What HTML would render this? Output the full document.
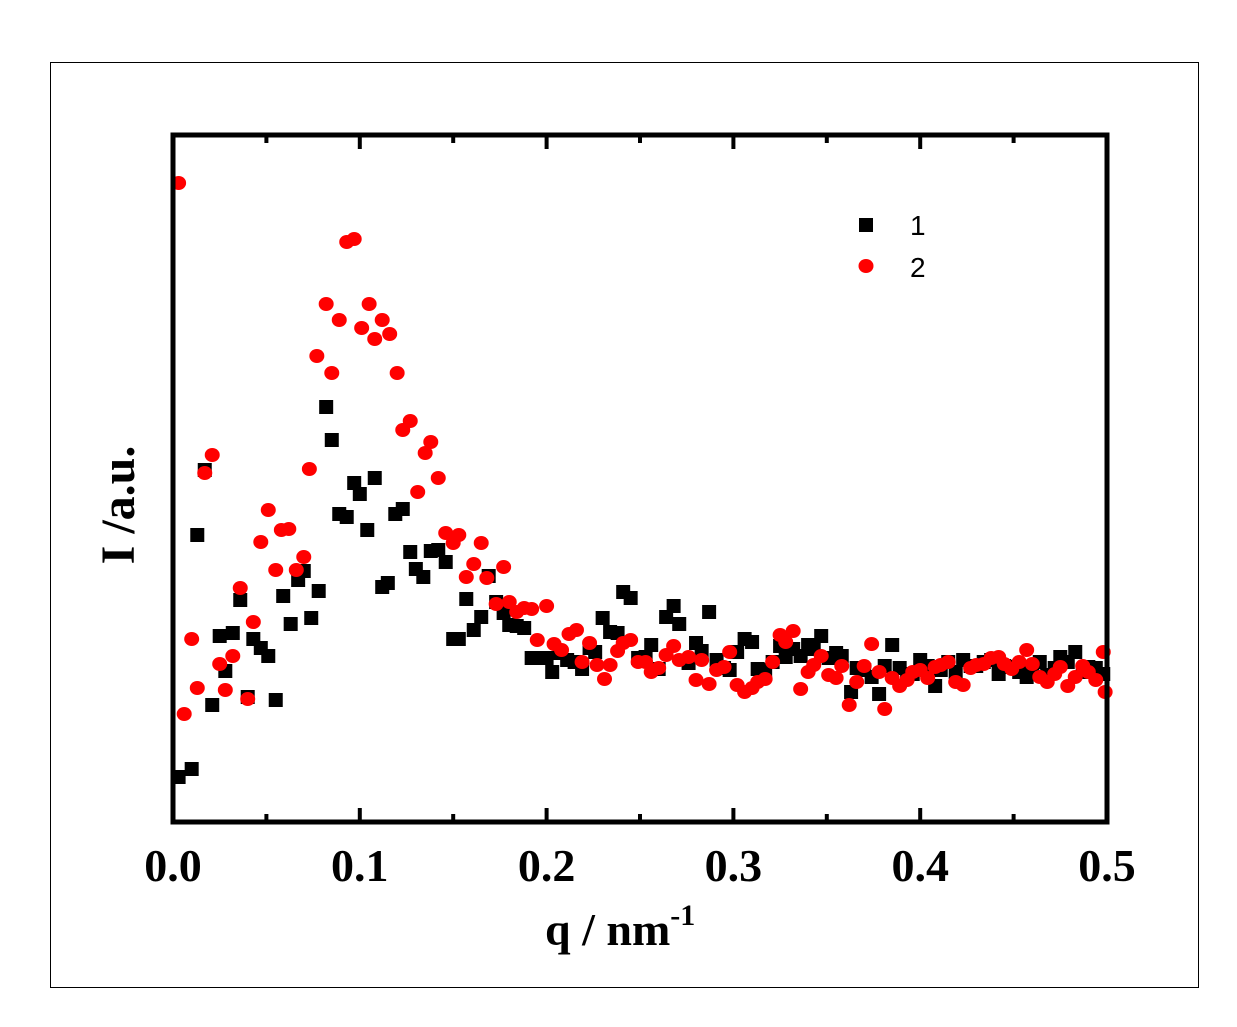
<!DOCTYPE html>
<html><head><meta charset="utf-8"><style>
html,body{margin:0;padding:0;background:#fff;}
svg{display:block;}
</style></head><body>
<svg id="chart" width="1237" height="1027" viewBox="0 0 1237 1027" xmlns="http://www.w3.org/2000/svg">
<rect x="50.5" y="62.5" width="1148" height="925" fill="#fff" stroke="#000" stroke-width="1"/>
<g id="marks"></g>
<rect x="173" y="135" width="934" height="687" fill="none" stroke="#000" stroke-width="5"/>
<g id="ticks"></g>
<text x="545" y="945" font-family="Liberation Serif, serif" font-weight="bold" font-size="46">q / nm<tspan font-size="30" dy="-20">-1</tspan></text>
<text transform="translate(134,505) rotate(-90)" text-anchor="middle" font-family="Liberation Serif, serif" font-weight="bold" font-size="48">I /a.u.</text>
<g>
<rect x="859" y="218" width="14" height="14" fill="#000"/>
<text x="910" y="235" font-family="Liberation Sans, sans-serif" font-size="28">1</text>
<ellipse cx="866" cy="266" rx="7.5" ry="7" fill="#f00"/>
<text x="910" y="277" font-family="Liberation Sans, sans-serif" font-size="28">2</text>
</g>
</svg>
<script>
const xTicks = [0.0, 0.1, 0.2, 0.3, 0.4, 0.5];
const xTickLabels = ["0.0", "0.1", "0.2", "0.3", "0.4", "0.5"];
const xMinorTicks = [0.05, 0.15, 0.25, 0.35, 0.45];
const q1 = [0.003,0.010,0.013,0.017,0.021,0.025,0.028,0.032,0.036,0.040,0.043,0.047,0.051,0.055,0.059,0.063,0.067,0.070,0.074,0.078,0.082,0.085,0.089,0.093,0.097,0.100,0.104,0.108,0.112,0.115,0.119,0.123,0.127,0.130,0.134,0.138,0.142,0.146,0.150,0.153,0.157,0.161,0.165,0.169,0.173,0.177,0.180,0.184,0.188,0.192,0.195,0.200,0.203,0.207,0.211,0.215,0.219,0.223,0.226,0.230,0.234,0.238,0.241,0.245,0.249,0.253,0.256,0.260,0.264,0.268,0.271,0.276,0.280,0.283,0.287,0.291,0.295,0.298,0.302,0.306,0.310,0.313,0.317,0.321,0.325,0.328,0.332,0.336,0.340,0.343,0.347,0.351,0.355,0.358,0.363,0.366,0.370,0.374,0.378,0.381,0.385,0.389,0.393,0.396,0.400,0.404,0.408,0.411,0.415,0.419,0.423,0.427,0.430,0.434,0.438,0.442,0.445,0.449,0.453,0.457,0.460,0.464,0.468,0.472,0.475,0.479,0.483,0.487,0.490,0.494,0.498];
const I1 = [0.45,0.53,2.87,3.52,1.17,1.86,1.51,1.89,2.22,1.25,1.83,1.74,1.66,1.22,2.26,1.98,2.42,2.51,2.04,2.31,4.15,3.82,3.08,3.05,3.39,3.28,2.92,3.44,2.35,2.39,3.08,3.13,2.70,2.53,2.45,2.71,2.72,2.60,1.83,1.83,2.23,1.92,2.05,2.46,2.20,2.09,1.97,1.96,1.94,1.64,1.64,1.64,1.50,1.69,1.62,1.60,1.53,1.74,1.70,2.04,1.90,1.89,2.30,2.24,1.64,1.65,1.77,1.53,2.05,2.16,1.98,1.59,1.79,1.71,2.10,1.62,1.54,1.52,1.70,1.83,1.80,1.53,1.52,1.60,1.76,1.65,1.73,1.66,1.77,1.73,1.86,1.64,1.69,1.66,1.30,1.54,1.52,1.45,1.28,1.56,1.77,1.54,1.48,1.48,1.62,1.56,1.36,1.52,1.60,1.50,1.62,1.56,1.56,1.60,1.62,1.48,1.56,1.55,1.50,1.45,1.50,1.60,1.47,1.54,1.65,1.60,1.70,1.50,1.55,1.54,1.48];
const q2 = [0.003,0.006,0.010,0.013,0.017,0.021,0.025,0.028,0.032,0.036,0.040,0.043,0.047,0.051,0.055,0.058,0.062,0.066,0.070,0.073,0.077,0.082,0.085,0.089,0.093,0.097,0.101,0.105,0.108,0.112,0.116,0.120,0.123,0.127,0.131,0.135,0.138,0.142,0.146,0.150,0.153,0.157,0.161,0.165,0.168,0.173,0.177,0.180,0.184,0.188,0.192,0.195,0.200,0.204,0.208,0.212,0.216,0.219,0.223,0.227,0.231,0.234,0.238,0.241,0.245,0.249,0.253,0.256,0.260,0.264,0.268,0.271,0.276,0.280,0.283,0.287,0.291,0.295,0.298,0.302,0.306,0.310,0.313,0.317,0.321,0.325,0.328,0.332,0.336,0.340,0.343,0.347,0.351,0.355,0.358,0.362,0.366,0.370,0.374,0.378,0.381,0.385,0.389,0.393,0.396,0.400,0.404,0.408,0.411,0.415,0.419,0.423,0.427,0.430,0.434,0.438,0.442,0.445,0.449,0.453,0.457,0.460,0.464,0.468,0.472,0.475,0.479,0.483,0.487,0.490,0.494,0.498,0.499];
const I2 = [6.39,1.08,1.83,1.34,3.49,3.67,1.58,1.32,1.66,2.34,1.23,2.00,2.80,3.12,2.52,2.92,2.93,2.52,2.65,3.53,4.66,5.18,4.49,5.02,5.80,5.83,4.94,5.18,4.83,5.02,4.88,4.49,3.92,4.01,3.30,3.69,3.80,3.44,2.89,2.79,2.87,2.45,2.58,2.79,2.44,2.18,2.55,2.20,2.10,2.14,2.13,1.82,2.16,1.78,1.72,1.88,1.92,1.60,1.79,1.57,1.43,1.57,1.71,1.79,1.82,1.60,1.60,1.50,1.54,1.67,1.76,1.62,1.65,1.42,1.62,1.38,1.52,1.55,1.70,1.37,1.30,1.34,1.40,1.43,1.60,1.87,1.80,1.91,1.33,1.50,1.57,1.66,1.47,1.44,1.56,1.17,1.40,1.56,1.78,1.50,1.13,1.44,1.36,1.42,1.50,1.52,1.44,1.55,1.57,1.60,1.40,1.37,1.54,1.57,1.58,1.64,1.65,1.58,1.53,1.60,1.72,1.58,1.45,1.40,1.48,1.55,1.36,1.45,1.56,1.50,1.42,1.70,1.30];

const NS = "http://www.w3.org/2000/svg";
const X0 = 173, X1 = 1107, Y0 = 822, Y1 = 135;
const qMax = 0.5, iMax = 6.87;
function xScale(q){ return X0 + (q/qMax)*(X1-X0); }
function yScale(v){ return Y0 - (v/iMax)*(Y0-Y1); }

const marks = document.getElementById('marks');
const ticks = document.getElementById('ticks');

for (let i = 0; i < q1.length; i++) {
  const r = document.createElementNS(NS, 'rect');
  r.setAttribute('x', xScale(q1[i]) - 7);
  r.setAttribute('y', yScale(I1[i]) - 7);
  r.setAttribute('width', 14);
  r.setAttribute('height', 14);
  r.setAttribute('fill', '#000');
  
  
  marks.appendChild(r);
}
for (let i = 0; i < q2.length; i++) {
  const c = document.createElementNS(NS, 'ellipse');
  c.setAttribute('cx', xScale(q2[i]));
  c.setAttribute('cy', yScale(I2[i]));
  c.setAttribute('rx', 7.5);
  c.setAttribute('ry', 7);
  c.setAttribute('fill', '#f00');
  
  
  marks.appendChild(c);
}
function line(x1,y1,x2,y2,w){
  const l = document.createElementNS(NS,'line');
  l.setAttribute('x1',x1); l.setAttribute('y1',y1);
  l.setAttribute('x2',x2); l.setAttribute('y2',y2);
  l.setAttribute('stroke','#000'); l.setAttribute('stroke-width',w);
  return l;
}
for (let i = 0; i < xTicks.length; i++) {
  const x = xScale(xTicks[i]);
  const b = line(x, Y0, x, Y0-14, 4);
  
  
  ticks.appendChild(b);
  const t = line(x, Y1, x, Y1+14, 4);
  
  
  ticks.appendChild(t);
  const lab = document.createElementNS(NS,'text');
  lab.setAttribute('x', x);
  lab.setAttribute('y', 881);
  lab.setAttribute('text-anchor','middle');
  lab.setAttribute('font-family','Liberation Serif, serif');
  lab.setAttribute('font-weight','bold');
  lab.setAttribute('font-size','46');
  lab.textContent = xTickLabels[i];
  
  
  ticks.appendChild(lab);
}
for (let i = 0; i < xMinorTicks.length; i++) {
  const x = xScale(xMinorTicks[i]);
  const b = line(x, Y0, x, Y0-8, 4);
  
  
  ticks.appendChild(b);
  const t = line(x, Y1, x, Y1+8, 4);
  
  
  ticks.appendChild(t);
}
</script>
</body></html>
